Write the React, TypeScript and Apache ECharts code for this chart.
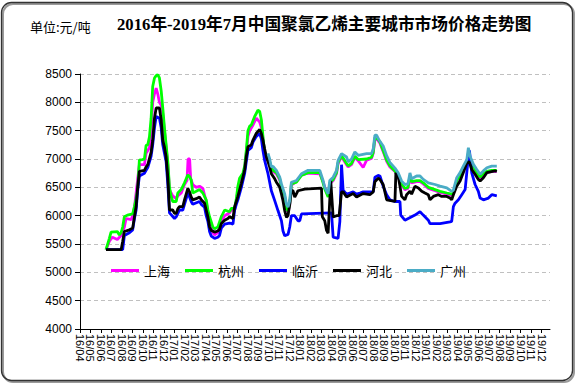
import { useEffect, useRef } from "react";
import * as echarts from "echarts";

const monthLabels = [
  "16/04","16/05","16/06","16/07","16/08","16/09","16/10","16/11","16/12",
  "17/01","17/02","17/03","17/04","17/05","17/06","17/07","17/08","17/09","17/10","17/11","17/12",
  "18/01","18/02","18/03","18/04","18/05","18/06","18/07","18/08","18/09","18/10","18/11","18/12",
  "19/01","19/02","19/03","19/04","19/05","19/06","19/07","19/08","19/09","19/10","19/11","19/12",
];
const yTicks = [4000, 4500, 5000, 5500, 6000, 6500, 7000, 7500, 8000, 8500];
const seriesNames = ["上海", "杭州", "临沂", "河北", "广州"];
const seriesColors = ["#FF00FF", "#00FF00", "#0000FF", "#000000", "#4BACC6"];

// [month offset from 16/04, price]
const shanghai = [
  [2.48,5400],[2.8,5550],[3.09,5620],[3.56,5580],[3.92,5650],[4.23,5800],[4.39,5950],[4.87,5930],[5.02,6000],[5.19,6150],[5.35,6400],[5.5,6650],[5.66,6900],[6.14,6900],[6.3,7100],[6.62,7200],[6.78,7500],[6.93,8000],[7.1,8150],[7.26,8250],[7.41,8150],[7.57,8000],[7.74,7950],[7.89,7800],[8.05,7500],[8.21,7200],[8.37,6900],[8.53,6450],[8.69,6400],[8.84,6350],[9.17,6300],[9.32,6350],[9.65,6400],[9.96,6550],[10.12,6600],[10.2,6620],[10.3,7000],[10.45,7000],[10.55,6650],[10.75,6550],[11.08,6500],[11.39,6520],[11.71,6480],[12.03,6250],[12.19,6050],[12.35,5900],[12.66,5700],[12.83,5660],[13.14,5700],[13.47,5900],[13.79,6000],[14.26,6050],[14.42,6100],[14.74,6100],[14.9,6250],[15.05,6450],[15.21,6600],[15.53,6700],[15.7,6850],[15.85,7100],[16.01,7400],[16.17,7500],[16.49,7600],[16.81,7720],[17.13,7650],[17.29,7550],[17.44,7350],[17.6,7100],[17.77,7000],
  [17.92,6990],[18.08,6930],[18.24,6820],[18.4,6780],[18.72,6740],[19.04,6630],[19.2,6500],[19.51,6330],[19.68,6100],[19.83,6060],[19.99,6180],[20.15,6540],[20.63,6600],[21.11,6720],[21.74,6750],[22.86,6740],[23.17,6600],[23.33,6500],[23.65,6350],[23.81,6560],[24.13,6620],[24.45,6740],[24.6,6920],[24.93,7040],[25.41,6900],[25.56,6860],[25.88,6900],[26.2,7030],[26.51,6970],[26.99,6850],[27.32,6980],[27.79,7010],[27.95,7100],[28.11,7360],[28.27,7360],[28.59,7280],[28.9,7130],[29.23,6960],[29.54,6860],[30.02,6780],[30.33,6680],[30.66,6540],[30.97,6460],[31.26,6480],[31.45,6680],[31.61,6580],[32.09,6600],[32.41,6600],[32.72,6560],[33.2,6480],[33.84,6440],[34.32,6410],[34.96,6380],[35.43,6360],[35.59,6380],[35.91,6600],[36.23,6680],[36.54,6800],[36.87,6920],[37.02,7080],[37.18,6970],[37.5,6840],[37.82,6740],[38.14,6660],[38.45,6720],[38.78,6760],[39.25,6780],[39.73,6780],
];
const hangzhou = [
  [2.48,5400],[2.8,5600],[2.96,5710],[3.56,5720],[3.75,5660],[3.92,5700],[4.07,5800],[4.23,5980],[4.52,6010],[5.02,6030],[5.19,6160],[5.35,6300],[5.5,6480],[5.66,6980],[5.95,6990],[6.14,7000],[6.3,7240],[6.46,7250],[6.62,7390],[6.78,7720],[6.93,8280],[7.1,8430],[7.26,8470],[7.41,8490],[7.57,8430],[7.74,8200],[7.89,7900],[8.05,7550],[8.21,7250],[8.37,6950],[8.53,6500],[8.69,6340],[8.84,6250],[9.17,6250],[9.32,6400],[9.65,6460],[9.96,6580],[10.28,6720],[10.44,6690],[10.6,6630],[10.75,6400],[11.08,6430],[11.39,6460],[11.71,6400],[12.03,6280],[12.19,6100],[12.35,5980],[12.66,5800],[12.83,5770],[13.14,5800],[13.47,5980],[13.79,6100],[14.26,6070],[14.42,6130],[14.74,6130],[14.9,6300],[15.05,6520],[15.21,6660],[15.53,6750],[15.7,6880],[15.85,7150],[16.01,7500],[16.17,7580],[16.33,7600],[16.65,7750],[16.96,7860],[17.13,7840],[17.29,7690],[17.44,7400],[17.6,7100],[17.77,7040],
  [17.92,7020],[18.08,6950],[18.24,6840],[18.4,6800],[18.72,6760],[19.04,6650],[19.2,6520],[19.51,6350],[19.68,6120],[19.83,6080],[19.99,6200],[20.15,6560],[20.63,6590],[21.11,6710],[21.74,6760],[22.86,6760],[23.17,6580],[23.33,6470],[23.65,6330],[23.81,6580],[24.13,6640],[24.45,6760],[24.6,6940],[24.93,7060],[25.41,6920],[25.56,6880],[25.88,6920],[26.2,7050],[26.51,6990],[27.32,7000],[27.79,7030],[27.95,7120],[28.11,7380],[28.27,7380],
  [28.59,7300],[28.9,7150],[29.23,6980],[29.54,6880],[30.02,6790],[30.33,6700],[30.66,6560],[30.97,6480],[31.26,6500],[31.45,6700],[31.61,6600],[32.09,6620],[32.41,6620],[32.72,6580],[33.2,6500],[33.84,6460],[34.32,6430],[34.96,6400],[35.43,6380],[35.59,6400],[35.91,6620],[36.23,6700],[36.54,6820],[36.87,6940],[37.02,7100],[37.18,6990],[37.5,6860],[37.82,6760],[38.14,6680],[38.45,6740],[38.78,6780],[39.25,6800],[39.73,6800],
];
const linyi = [
  [2.48,5400],[4.07,5400],[4.23,5650],[4.71,5700],[5.02,5750],[5.19,5950],[5.35,6100],[5.5,6450],[5.66,6700],[6.14,6750],[6.3,6800],[6.46,6850],[6.78,7050],[6.93,7250],[7.1,7550],[7.26,7750],[7.57,7720],[7.74,7550],[7.89,7250],[8.05,7100],[8.21,6950],[8.37,6550],[8.53,6050],[9.01,5950],[9.17,5980],[9.48,6100],[9.8,6100],[9.96,6200],[10.28,6400],[10.44,6330],[10.6,6250],[10.75,6200],[11.39,6250],[11.56,6200],[11.87,6150],[12.03,6000],[12.19,5900],[12.35,5720],[12.51,5640],[12.83,5600],[13.14,5620],[13.3,5650],[13.47,5780],[13.79,5850],[14.26,5870],[14.58,5850],[14.74,6100],[14.9,6200],[15.05,6280],[15.38,6500],[15.7,6750],[15.85,6950],[16.01,7150],[16.33,7200],[16.49,7300],[16.81,7400],[17.13,7450],[17.29,7350],[17.44,7150],[17.6,6975],[17.92,6740],[18.24,6440],[18.56,6265],[18.87,6090],[19.2,5910],[19.35,5730],[19.51,5645],[19.83,5670],[19.99,5800],[20.15,6000],[20.47,6000],[20.78,5910],[20.95,5910],[21.11,6030],[23.97,6050],[24.13,5620],[24.6,5600],[24.77,5900],[24.93,6900],[25.08,6450],[25.41,6380],[25.72,6400],[26.04,6420],[26.36,6380],[26.68,6400],[26.99,6420],[27.95,6420],[28.11,6680],[28.42,6710],[28.59,6700],[28.9,6520],[29.23,6370],[29.54,6280],[30.02,6250],[30.5,6250],[30.57,6010],[30.97,5920],[31.29,5950],[31.93,6010],[32.41,6070],[32.72,6010],[33.2,5920],[33.36,5860],[34.32,5860],[35.27,5890],[35.43,5900],[35.59,6160],[35.75,6220],[36.07,6280],[36.39,6370],[36.71,6460],[36.93,6875],[37.12,7150],[37.34,6755],[37.66,6550],[37.97,6430],[38.14,6310],[38.45,6280],[38.93,6310],[39.25,6370],[39.73,6350],
];
const hebei = [
  [2.48,5400],[3.92,5400],[4.07,5550],[4.23,5720],[4.71,5750],[5.02,5780],[5.19,5980],[5.35,6160],[5.5,6500],[5.66,6780],[6.14,6800],[6.3,6860],[6.46,6900],[6.78,7120],[6.93,7330],[7.1,7720],[7.26,7900],[7.57,7900],[7.74,7690],[7.89,7330],[8.05,7210],[8.21,7035],[8.37,6680],[8.53,6100],[8.84,6100],[9.01,6040],[9.17,6040],[9.32,6120],[9.48,6160],[9.8,6160],[9.96,6280],[10.12,6380],[10.28,6480],[10.44,6420],[10.6,6330],[10.75,6280],[11.08,6300],[11.39,6330],[11.56,6280],[11.87,6220],[12.03,6100],[12.19,5980],[12.35,5800],[12.51,5740],[12.83,5710],[13.14,5730],[13.3,5760],[13.47,5860],[13.79,5920],[14.1,5950],[14.26,5980],[14.58,5950],[14.74,6160],[14.9,6250],[15.05,6340],[15.38,6570],[15.7,6810],[15.85,7040],[16.01,7215],[16.33,7250],[16.49,7335],[16.81,7455],[17.13,7520],[17.29,7450],[17.44,7330],[17.6,7180],[17.77,7035],[18.08,6860],[18.24,6740],[18.56,6650],[18.72,6590],[19.04,6500],[19.2,6385],[19.35,6265],[19.51,6090],[19.68,5970],[19.83,6000],[19.99,6205],[20.15,6440],[20.31,6440],[20.47,6325],[20.63,6385],[20.78,6440],[21.42,6470],[23.02,6485],[23.1,5980],[23.33,5910],[23.5,5740],[23.65,5690],[23.9,6620],[24.13,5975],[24.45,6000],[24.7,6000],[24.93,6420],[25.08,6420],[25.41,6330],[25.72,6360],[26.04,6390],[26.36,6330],[26.68,6360],[26.99,6390],[27.63,6370],[27.95,6420],[28.11,6600],[28.42,6660],[28.59,6640],[28.9,6550],[29.23,6280],[30.02,6250],[30.11,6755],[30.33,6700],[30.5,6520],[30.66,6340],[30.97,6280],[31.13,6370],[31.45,6430],[31.61,6380],[31.93,6520],[32.25,6490],[32.57,6430],[32.88,6400],[33.2,6370],[33.36,6280],[33.68,6340],[34.16,6370],[34.48,6340],[34.96,6340],[35.27,6310],[35.43,6280],[35.59,6370],[35.91,6520],[36.23,6610],[36.54,6760],[36.87,6935],[37.12,6950],[37.34,6815],[37.66,6730],[37.97,6640],[38.14,6610],[38.45,6670],[38.78,6760],[39.57,6790],[39.73,6780],
];
const guangzhou = [
  [17.92,7100],[18.08,7000],[18.24,6860],[18.4,6870],[18.72,6800],[19.04,6680],[19.2,6560],[19.51,6385],[19.68,6205],[19.83,6150],[19.99,6265],[20.15,6590],[20.63,6620],[21.11,6740],[21.74,6800],[22.86,6800],[23.17,6620],[23.33,6500],[23.65,6385],[23.81,6620],[24.13,6680],[24.45,6800],[24.6,6975],[24.93,7095],[25.41,7035],[25.56,6950],[25.88,7000],[26.2,7125],[26.51,7065],[27.32,7095],[27.79,7095],[27.95,7180],[28.11,7420],[28.27,7420],[28.52,7330],[28.9,7230],[29.23,7060],[29.54,6940],[30.02,6840],[30.33,6755],[30.66,6610],[30.97,6550],[31.26,6560],[31.45,6755],[31.61,6650],[32.09,6700],[32.41,6700],[32.72,6640],[33.2,6580],[33.84,6550],[34.32,6520],[34.96,6490],[35.43,6430],[35.59,6450],[35.91,6670],[36.23,6760],[36.54,6875],[36.87,6990],[37.02,7200],[37.18,7050],[37.5,6905],[37.82,6815],[38.14,6730],[38.45,6790],[38.78,6845],[39.25,6875],[39.73,6875],
];
const seriesData = [shanghai, hangzhou, linyi, hebei, guangzhou];

export default function App() {
  const ref = useRef<HTMLDivElement>(null);
  useEffect(() => {
    if (!ref.current) return;
    const chart = echarts.init(ref.current, undefined, { renderer: "svg" });
    const idx = monthLabels.map((_, i) => i);
    const baseGraphic: any[] = [
      {
        type: "rect",
        shape: { x: 3, y: 4, width: 571, height: 378, r: 10 },
        style: { fill: "none", stroke: "#9a9a9a", lineWidth: 2 },
        silent: true,
      },
      {
        type: "rect",
        shape: { x: 1.5, y: 2.5, width: 571, height: 378, r: 10 },
        style: { fill: "none", stroke: "#333", lineWidth: 1.3 },
        silent: true,
      },
      {
        type: "text",
        left: 30,
        top: 20,
        style: {
          text: "单位:元/吨",
          font: "13px 'Noto Sans CJK SC'",
          fill: "#000",
        },
      },
    ];
    chart.setOption({
      animation: false,
      backgroundColor: "#ffffff",
      title: {
        text: "2016年-2019年7月中国聚氯乙烯主要城市市场价格走势图",
        left: 112,
        top: 11,
        textStyle: {
          fontSize: 16.7,
          fontWeight: "bold",
          fontFamily: "Liberation Serif, Noto Sans CJK SC",
          color: "#000",
        },
      },
      graphic: baseGraphic,
      legend: {
        data: seriesNames,
        left: 106,
        top: 259,
        icon: "rect",
        itemWidth: 28,
        itemHeight: 3,
        itemGap: 15,
        textStyle: { fontSize: 13, fontFamily: "Noto Sans CJK SC", color: "#000" },
      },
      grid: { left: 80, right: 28, top: 74, bottom: 55 },
      xAxis: {
        type: "value",
        min: 0,
        max: 44.8,
        interval: 1,
        axisLine: { lineStyle: { color: "#000", width: 1 } },
        axisTick: { show: true, length: 4, lineStyle: { color: "#000" }, customValues: idx },
        axisLabel: { show: false },
        splitLine: { show: false },
      },
      yAxis: {
        type: "value",
        min: yTicks[0],
        max: yTicks[yTicks.length - 1],
        interval: 500,
        axisLine: { show: true, lineStyle: { color: "#000", width: 1 } },
        axisTick: { show: true, length: 5, lineStyle: { color: "#000" } },
        axisLabel: {
          fontSize: 12,
          fontFamily: "Liberation Sans",
          color: "#000",
          margin: 8,
          formatter: (v: number) => String(v),
        },
        splitLine: { show: true, lineStyle: { color: "#c0c0c0", type: [4, 3], width: 1 } },
      },
      series: seriesNames.map((name, i) => ({
        name,
        type: "line",
        data: seriesData[i],
        showSymbol: false,
        symbol: "none",
        color: seriesColors[i],
        lineStyle: { color: seriesColors[i], width: 2.8 },
      })),
    });
    // month tick labels, placed through the x axis scale
    const axisY = chart.convertToPixel({ yAxisIndex: 0 }, yTicks[0]) as number;
    const labelEls = monthLabels.map((lab, i) => {
      const px = chart.convertToPixel({ xAxisIndex: 0 }, i) as number;
      return {
        type: "text",
        x: px,
        y: axisY + 5,
        rotation: -Math.PI / 2,
        silent: true,
        style: {
          text: lab,
          font: "11px 'Liberation Sans'",
          fill: "#000",
          align: "left",
          verticalAlign: "middle",
        },
      };
    });
    chart.setOption({ graphic: [...baseGraphic, ...labelEls] }, { replaceMerge: ["graphic"] });
    return () => chart.dispose();
  }, []);
  return (
    <div
      ref={ref}
      style={{ position: "fixed", left: 0, top: 0, width: 578, height: 384, background: "#fff" }}
    />
  );
}
